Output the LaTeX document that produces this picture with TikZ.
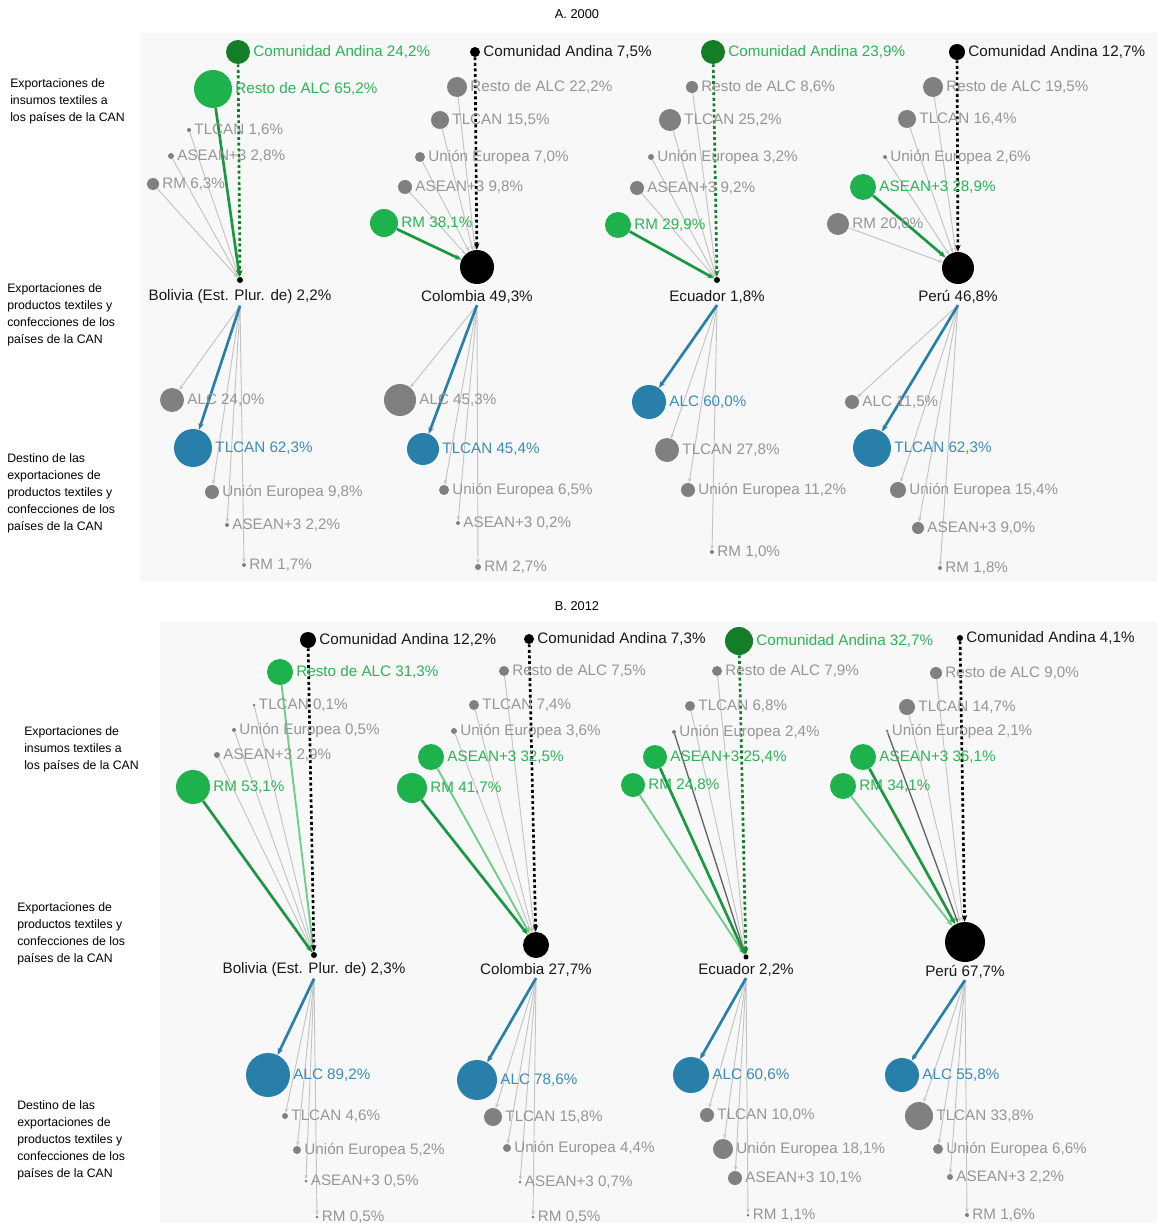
\documentclass[tikz,border=0pt]{standalone}
\usepackage{fontspec}
\setmainfont{Liberation Sans}
\usetikzlibrary{arrows.meta}
\definecolor{dkgreen}{RGB}{20,125,40}
\definecolor{bgreen}{RGB}{30,178,76}
\definecolor{tgreen}{RGB}{45,180,85}
\definecolor{lgreen}{RGB}{110,205,135}
\definecolor{cgray}{RGB}{128,128,128}
\definecolor{tgray}{RGB}{150,150,150}
\definecolor{lgray}{RGB}{195,195,195}
\definecolor{dgline}{RGB}{100,100,100}
\definecolor{cblue}{RGB}{40,128,170}
\definecolor{tblue}{RGB}{60,140,185}
\definecolor{tblack}{RGB}{25,25,25}
\definecolor{panel}{RGB}{248,248,248}
\pgfdeclarelayer{bg}\pgfdeclarelayer{edges}\pgfsetlayers{bg,edges,main}
\tikzset{
  bubble/.style={circle, inner sep=0pt, draw=none},
  lbl/.style={font=\fontsize{11.4}{13}\selectfont, inner sep=1pt},
  clbl/.style={font=\fontsize{11.4}{13}\selectfont, inner sep=1pt, text=tblack},
  side/.style={font=\fontsize{9.2}{12.75}\selectfont, align=left, inner sep=0pt, anchor=west},
  ttl/.style={font=\fontsize{9.6}{12}\selectfont, inner sep=0pt},
  gl/.style={draw=lgray, line width=0.7pt, -{Stealth[length=3.5pt,width=2.6pt]}},
  dgl/.style={draw=dgline, line width=1pt, -{Stealth[length=3.5pt,width=2.6pt]}},
  grl/.style={draw=bgreen!85!black, line width=2pt, -{Stealth[length=5pt,width=4pt]}},
  lgl/.style={draw=lgreen, line width=1.4pt, -{Stealth[length=5pt,width=4pt]}},
  cal/.style={line width=2pt, dash pattern=on 2.2pt off 2pt, -{Stealth[length=5pt,width=4pt]}},
  bll/.style={draw=cblue, line width=2pt, -{Stealth[length=5pt,width=4pt]}},
}
\newcommand\bub[7]{%
  \node[bubble, minimum size=#4*1.5pt, fill=#5] (#1) at (#2,#3) {};%
  \node[lbl, text=#6, anchor=west] (#1-l) at ([xshift=1.2pt]#1.east) {#7};}
\newcommand\ctry[6]{%
  \node[bubble, minimum size=#4*1.5pt, fill=black] (#1) at (#2,#3) {};%
  \node[clbl] (#1-l) at (#2,#5) {#6};}
\begin{document}
\begin{tikzpicture}[x=0.75pt, y=-0.75pt]
\useasboundingbox (0,0) rectangle (1157,1223);
\begin{pgfonlayer}{bg}
\fill[white] (0,0) rectangle (1157,1223);
\fill[panel] (140,33) rectangle (1157,582);
\fill[panel] (160,622) rectangle (1157,1223);
\end{pgfonlayer}

% titles and side labels
\node[ttl] (tA) at (577,14) {A. 2000};
\node[ttl] (tB) at (577,606) {B. 2012};
\node[side] (sA1) at (10,101) {Exportaciones de\\insumos textiles a\\los países de la CAN};
\node[side] (sA2) at (7,315) {Exportaciones de\\productos textiles y\\confecciones de los\\países de la CAN};
\node[side] (sA3) at (7,493) {Destino de las\\exportaciones de\\productos textiles y\\confecciones de los\\países de la CAN};
\node[side] (sB1) at (24,749) {Exportaciones de\\insumos textiles a\\los países de la CAN};
\node[side] (sB2) at (17,934) {Exportaciones de\\productos textiles y\\confecciones de los\\países de la CAN};
\node[side] (sB3) at (17,1140) {Destino de las\\exportaciones de\\productos textiles y\\confecciones de los\\países de la CAN};

% ================= A. 2000 =================
% Bolivia
\bub{a1ca}{238}{52}{12}{dkgreen}{tgreen}{Comunidad Andina 24,2\%}
\bub{a1ra}{213}{89}{19}{bgreen}{tgreen}{Resto de ALC 65,2\%}
\bub{a1tl}{189}{130}{2}{cgray}{tgray}{TLCAN 1,6\%}
\bub{a1as}{171}{156}{3}{cgray}{tgray}{ASEAN+3 2,8\%}
\bub{a1rm}{153}{184}{6}{cgray}{tgray}{RM 6,3\%}
\ctry{a1}{240}{280}{3}{297}{Bolivia (Est. Plur. de) 2,2\%}
\bub{a1dal}{172}{400}{12}{cgray}{tgray}{ALC 24,0\%}
\bub{a1dtl}{193}{448}{19}{cblue}{tblue}{TLCAN 62,3\%}
\bub{a1due}{212}{492}{7}{cgray}{tgray}{Unión Europea 9,8\%}
\bub{a1das}{227}{525}{2}{cgray}{tgray}{ASEAN+3 2,2\%}
\bub{a1drm}{244}{565}{2}{cgray}{tgray}{RM 1,7\%}
% Colombia
\bub{a2ca}{475}{52}{5}{black}{tblack}{Comunidad Andina 7,5\%}
\bub{a2ra}{457}{87}{10}{cgray}{tgray}{Resto de ALC 22,2\%}
\bub{a2tl}{440}{120}{9}{cgray}{tgray}{TLCAN 15,5\%}
\bub{a2ue}{420}{157}{5}{cgray}{tgray}{Unión Europea 7,0\%}
\bub{a2as}{405}{187}{7}{cgray}{tgray}{ASEAN+3 9,8\%}
\bub{a2rm}{384}{223}{14}{bgreen}{tgreen}{RM 38,1\%}
\ctry{a2}{477}{267}{17}{297}{Colombia 49,3\%}
\bub{a2dal}{400}{400}{16}{cgray}{tgray}{ALC 45,3\%}
\bub{a2dtl}{423}{449}{16}{cblue}{tblue}{TLCAN 45,4\%}
\bub{a2due}{444}{490}{5}{cgray}{tgray}{Unión Europea 6,5\%}
\bub{a2das}{458}{523}{2}{cgray}{tgray}{ASEAN+3 0,2\%}
\bub{a2drm}{478}{567}{3}{cgray}{tgray}{RM 2,7\%}
% Ecuador
\bub{a3ca}{713}{52}{12}{dkgreen}{tgreen}{Comunidad Andina 23,9\%}
\bub{a3ra}{692}{87}{6}{cgray}{tgray}{Resto de ALC 8,6\%}
\bub{a3tl}{670}{120}{11}{cgray}{tgray}{TLCAN 25,2\%}
\bub{a3ue}{651}{157}{3}{cgray}{tgray}{Unión Europea 3,2\%}
\bub{a3as}{637}{188}{7}{cgray}{tgray}{ASEAN+3 9,2\%}
\bub{a3rm}{618}{225}{13}{bgreen}{tgreen}{RM 29,9\%}
\ctry{a3}{717}{280}{3}{297}{Ecuador 1,8\%}
\bub{a3dal}{649}{402}{17}{cblue}{tblue}{ALC 60,0\%}
\bub{a3dtl}{667}{450}{12}{cgray}{tgray}{TLCAN 27,8\%}
\bub{a3due}{688}{490}{7}{cgray}{tgray}{Unión Europea 11,2\%}
\bub{a3drm}{712}{552}{2}{cgray}{tgray}{RM 1,0\%}
% Peru
\bub{a4ca}{957}{52}{8}{black}{tblack}{Comunidad Andina 12,7\%}
\bub{a4ra}{933}{87}{10}{cgray}{tgray}{Resto de ALC 19,5\%}
\bub{a4tl}{907}{119}{9}{cgray}{tgray}{TLCAN 16,4\%}
\bub{a4ue}{885}{157}{2}{cgray}{tgray}{Unión Europea 2,6\%}
\bub{a4as}{863}{187}{13}{bgreen}{tgreen}{ASEAN+3 28,9\%}
\bub{a4rm}{838}{224}{11}{cgray}{tgray}{RM 20,0\%}
\ctry{a4}{958}{268}{16}{297}{Perú 46,8\%}
\bub{a4dal}{852}{402}{7}{cgray}{tgray}{ALC 11,5\%}
\bub{a4dtl}{872}{448}{19}{cblue}{tblue}{TLCAN 62,3\%}
\bub{a4due}{898}{490}{8}{cgray}{tgray}{Unión Europea 15,4\%}
\bub{a4das}{918}{528}{6}{cgray}{tgray}{ASEAN+3 9,0\%}
\bub{a4drm}{940}{568}{2}{cgray}{tgray}{RM 1,8\%}

% ================= B. 2012 =================
% Bolivia
\bub{b1ca}{308}{640}{8}{black}{tblack}{Comunidad Andina 12,2\%}
\bub{b1ra}{280}{672}{13}{bgreen}{tgreen}{Resto de ALC 31,3\%}
\bub{b1tl}{254}{705}{1.5}{cgray}{tgray}{TLCAN 0,1\%}
\bub{b1ue}{234}{730}{2}{cgray}{tgray}{Unión Europea 0,5\%}
\bub{b1as}{217}{755}{3}{cgray}{tgray}{ASEAN+3 2,9\%}
\bub{b1rm}{193}{787}{17}{bgreen}{tgreen}{RM 53,1\%}
\ctry{b1}{314}{955}{3}{970}{Bolivia (Est. Plur. de) 2,3\%}
\bub{b1dal}{268}{1075}{22}{cblue}{tblue}{ALC 89,2\%}
\bub{b1dtl}{285}{1116}{3}{cgray}{tgray}{TLCAN 4,6\%}
\bub{b1due}{297}{1150}{4}{cgray}{tgray}{Unión Europea 5,2\%}
\bub{b1das}{306}{1181}{1.5}{cgray}{tgray}{ASEAN+3 0,5\%}
\bub{b1drm}{317}{1217}{1.5}{cgray}{tgray}{RM 0,5\%}
% Colombia
\bub{b2ca}{529}{639}{5}{black}{tblack}{Comunidad Andina 7,3\%}
\bub{b2ra}{504}{671}{5}{cgray}{tgray}{Resto de ALC 7,5\%}
\bub{b2tl}{474}{705}{5}{cgray}{tgray}{TLCAN 7,4\%}
\bub{b2ue}{454}{731}{3}{cgray}{tgray}{Unión Europea 3,6\%}
\bub{b2as}{431}{757}{13}{bgreen}{tgreen}{ASEAN+3 32,5\%}
\bub{b2rm}{412}{788}{15}{bgreen}{tgreen}{RM 41,7\%}
\ctry{b2}{536}{945}{13}{970}{Colombia 27,7\%}
\bub{b2dal}{477}{1080}{20}{cblue}{tblue}{ALC 78,6\%}
\bub{b2dtl}{493}{1117}{9}{cgray}{tgray}{TLCAN 15,8\%}
\bub{b2due}{507}{1148}{4}{cgray}{tgray}{Unión Europea 4,4\%}
\bub{b2das}{520}{1182}{1.5}{cgray}{tgray}{ASEAN+3 0,7\%}
\bub{b2drm}{533}{1217}{1.5}{cgray}{tgray}{RM 0,5\%}
% Ecuador
\bub{b3ca}{739}{641}{14}{dkgreen}{tgreen}{Comunidad Andina 32,7\%}
\bub{b3ra}{717}{671}{5}{cgray}{tgray}{Resto de ALC 7,9\%}
\bub{b3tl}{690}{706}{5}{cgray}{tgray}{TLCAN 6,8\%}
\bub{b3ue}{674}{732}{2}{cgray}{tgray}{Unión Europea 2,4\%}
\bub{b3as}{655}{757}{12}{bgreen}{tgreen}{ASEAN+3 25,4\%}
\bub{b3rm}{633}{785}{12}{bgreen}{tgreen}{RM 24,8\%}
\ctry{b3}{746}{957}{2.5}{970}{Ecuador 2,2\%}
\bub{b3dal}{691}{1075}{18}{cblue}{tblue}{ALC 60,6\%}
\bub{b3dtl}{707}{1115}{7}{cgray}{tgray}{TLCAN 10,0\%}
\bub{b3due}{723}{1149}{10}{cgray}{tgray}{Unión Europea 18,1\%}
\bub{b3das}{735}{1178}{7}{cgray}{tgray}{ASEAN+3 10,1\%}
\bub{b3drm}{748}{1215}{1.5}{cgray}{tgray}{RM 1,1\%}
% Peru
\bub{b4ca}{960}{638}{3}{black}{tblack}{Comunidad Andina 4,1\%}
\bub{b4ra}{936}{673}{6}{cgray}{tgray}{Resto de ALC 9,0\%}
\bub{b4tl}{907}{707}{8}{cgray}{tgray}{TLCAN 14,7\%}
\bub{b4ue}{887}{731}{1.5}{cgray}{tgray}{Unión Europea 2,1\%}
\bub{b4as}{863}{757}{13}{bgreen}{tgreen}{ASEAN+3 36,1\%}
\bub{b4rm}{843}{786}{13}{bgreen}{tgreen}{RM 34,1\%}
\ctry{b4}{965}{942}{20}{972}{Perú 67,7\%}
\bub{b4dal}{902}{1075}{17}{cblue}{tblue}{ALC 55,8\%}
\bub{b4dtl}{919}{1116}{14}{cgray}{tgray}{TLCAN 33,8\%}
\bub{b4due}{938}{1149}{5}{cgray}{tgray}{Unión Europea 6,6\%}
\bub{b4das}{950}{1177}{3}{cgray}{tgray}{ASEAN+3 2,2\%}
\bub{b4drm}{967}{1215}{2}{cgray}{tgray}{RM 1,6\%}

% ================= connectors =================
\begin{pgfonlayer}{edges}
% A Bolivia
\foreach \s in {tl,as,rm} \draw[gl] (a1\s) -- (a1);
\draw[grl] (a1ra) -- (a1);
\draw[cal, draw=dkgreen] (a1ca) -- (a1);
\foreach \d in {dal,due,das,drm} \draw[gl] (a1-l.south) -- (a1\d);
\draw[bll] (a1-l.south) -- (a1dtl);
% A Colombia
\foreach \s in {ra,tl,ue,as} \draw[gl] (a2\s) -- (a2);
\draw[grl] (a2rm) -- (a2);
\draw[cal, draw=black] (a2ca) -- (a2);
\foreach \d in {dal,due,das,drm} \draw[gl] (a2-l.south) -- (a2\d);
\draw[bll] (a2-l.south) -- (a2dtl);
% A Ecuador
\foreach \s in {ra,tl,ue,as} \draw[gl] (a3\s) -- (a3);
\draw[grl] (a3rm) -- (a3);
\draw[cal, draw=dkgreen] (a3ca) -- (a3);
\foreach \d in {dtl,due,drm} \draw[gl] (a3-l.south) -- (a3\d);
\draw[bll] (a3-l.south) -- (a3dal);
% A Peru
\foreach \s in {ra,tl,ue,rm} \draw[gl] (a4\s) -- (a4);
\draw[grl] (a4as) -- (a4);
\draw[cal, draw=black] (a4ca) -- (a4);
\foreach \d in {dal,due,das,drm} \draw[gl] (a4-l.south) -- (a4\d);
\draw[bll] (a4-l.south) -- (a4dtl);
% B Bolivia
\foreach \s in {tl,ue,as} \draw[gl] (b1\s) -- (b1);
\draw[lgl] (b1ra) -- (b1);
\draw[grl] (b1rm) -- (b1);
\draw[cal, draw=black] (b1ca) -- (b1);
\foreach \d in {dtl,due,das,drm} \draw[gl] (b1-l.south) -- (b1\d);
\draw[bll] (b1-l.south) -- (b1dal);
% B Colombia
\foreach \s in {ra,tl,ue} \draw[gl] (b2\s) -- (b2);
\draw[lgl] (b2as) -- (b2);
\draw[grl] (b2rm) -- (b2);
\draw[cal, draw=black] (b2ca) -- (b2);
\foreach \d in {dtl,due,das,drm} \draw[gl] (b2-l.south) -- (b2\d);
\draw[bll] (b2-l.south) -- (b2dal);
% B Ecuador
\foreach \s in {ra,tl} \draw[gl] (b3\s) -- (b3);
\draw[dgl] (b3ue) -- (b3);
\draw[lgl] (b3rm) -- (b3);
\draw[grl] (b3as) -- (b3);
\draw[cal, draw=dkgreen] (b3ca) -- (b3);
\foreach \d in {dtl,due,das,drm} \draw[gl] (b3-l.south) -- (b3\d);
\draw[bll] (b3-l.south) -- (b3dal);
% B Peru
\foreach \s in {ra,tl} \draw[gl] (b4\s) -- (b4);
\draw[dgl] (b4ue) -- (b4);
\draw[lgl] (b4rm) -- (b4);
\draw[grl] (b4as) -- (b4);
\draw[cal, draw=black] (b4ca) -- (b4);
\foreach \d in {dtl,due,das,drm} \draw[gl] (b4-l.south) -- (b4\d);
\draw[bll] (b4-l.south) -- (b4dal);
\end{pgfonlayer}
\end{tikzpicture}
\end{document}
